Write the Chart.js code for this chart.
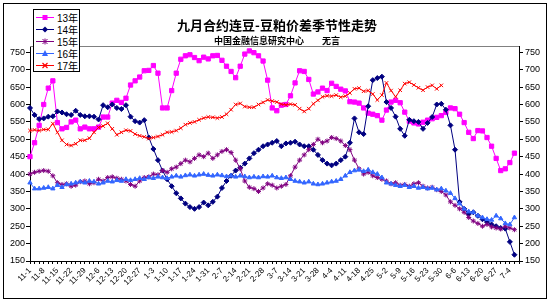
<!DOCTYPE html>
<html>
<head>
<meta charset="utf-8">
<script src="https://cdn.jsdelivr.net/npm/chart.js@4.4.1/dist/chart.umd.min.js"></script>
<style>
  body { margin: 0; background: #fff; }
  #wrap { position: relative; width: 554px; height: 305px; }
  #frame { position: absolute; left: 3px; top: 3px; width: 544px; height: 296px; border: 1px solid #000; box-sizing: border-box; pointer-events: none; }
  #legend { position: absolute; left: 33px; top: 9px; width: 47px; height: 63px; border: 1px solid #000; background: #fff; box-sizing: border-box; padding-top: 1px; font: 10px "Liberation Sans", "Noto Sans CJK SC", sans-serif; color: #000; white-space: nowrap; overflow: hidden; }
  .row { height: 12.2px; display: flex; align-items: center; }
  .row svg { margin: 0 3px 0 2px; flex: none; }
</style>
</head>
<body>
<div id="wrap">
  <canvas id="myChart" width="554" height="305"></canvas>
  <div id="frame"></div>
  <div id="legend"></div>
</div>
<script>
// tick labels on the date axis, one every 3 points
const tickLabels = ['11-1','11-8','11-15','11-22','11-29','12-6','12-13','12-20','12-27','1-3','1-10','1-17',
  '1-24','1-31','2-7','2-14','2-21','2-28','3-7','3-14','3-21','3-28','4-4','4-11',
  '4-18','4-25','5-2','5-9','5-16','5-23','5-30','6-6','6-13','6-20','6-27','7-4'];

const seriesNames = ['13年', '14年', '15年', '16年', '17年'];

const y13 = [450,490,540,600,647,668,548,530,534,550,555,530,535,530,530,535,564,564,604,612,
  606,618,656,668,679,697,698,712,690,590,590,640,690,730,740,743,735,726,736,731,
  740,741,727,710,695,677,710,745,754,749,740,725,670,590,582,598,600,625,662,697,
  695,672,630,636,647,640,661,652,644,639,608,607,604,590,575,572,568,555,584,607,
  612,605,578,552,547,544,549,555,559,563,568,577,590,588,572,548,520,502,525,524,
  505,480,445,410,415,433,460];

const y14 = [590,570,558,560,565,566,580,577,572,570,582,570,566,566,565,557,598,592,600,590,
  587,598,565,552,548,555,505,472,440,410,385,365,345,330,315,305,300,305,318,310,
  320,335,360,380,395,410,418,430,445,460,470,480,485,490,495,480,488,490,493,485,
  480,480,470,455,440,430,425,430,440,450,490,560,520,515,595,670,676,680,607,590,
  565,530,510,556,552,550,530,547,564,600,602,585,540,470,320,300,285,290,280,270,
  262,255,250,245,243,205,168];

const y15 = [400,405,408,410,408,395,375,370,372,365,368,378,380,372,375,385,380,390,392,388,
  385,380,370,365,380,390,392,400,398,410,405,415,420,430,440,435,445,455,450,460,
  445,455,465,470,462,440,415,380,362,358,350,360,372,368,360,365,370,395,420,440,
  455,470,485,500,490,495,505,502,495,482,470,440,415,400,405,395,390,385,380,372,
  375,368,370,365,372,375,365,360,362,355,350,340,320,310,300,290,275,265,258,250,
  255,248,245,242,250,245,240];

const y16 = [375,358,358,360,362,358,368,362,370,372,375,378,375,380,378,372,375,380,378,382,
  380,385,382,385,388,385,390,388,392,390,388,392,395,392,396,398,395,398,400,397,
  395,398,396,393,395,392,395,393,390,392,390,393,392,395,390,388,390,385,380,378,
  375,378,372,370,372,375,378,380,385,395,405,410,412,408,412,405,400,390,375,372,
  368,365,368,362,365,360,362,358,360,355,358,352,345,330,315,300,292,290,280,275,
  270,268,280,272,258,255,275];

const y17 = [525,527,525,528,528,545,520,497,485,482,487,497,497,503,520,534,538,546,530,513,
  520,526,524,515,510,507,502,505,508,513,520,521,525,532,542,547,550,556,561,564,
  563,561,564,572,585,600,603,594,592,592,600,606,613,610,607,601,599,601,599,588,
  580,588,602,612,622,625,624,627,621,624,633,645,647,638,640,630,613,627,662,640,
  622,641,660,664,656,648,641,650,655,645,655];

const colors = ['#ff00ff', '#000080', '#800080', '#3366ff', '#ff0000'];
const markers = ['rect', 'rectRot', 'star', 'triangle', 'crossRot'];

const categories = [];
tickLabels.forEach(t => categories.push(t, '', ''));

const seriesValues = [y13, y14, y15, y16, y17];

const datasets = seriesNames.map((name, i) => ({
  label: name,
  data: seriesValues[i],
  borderColor: colors[i],
  backgroundColor: colors[i],
  borderWidth: 1,
  pointStyle: markers[i],
  pointRadius: i == 0 ? 3 : 2.5,
  pointBorderWidth: 1,
  tension: 0,
  yAxisID: 'y',
  order: 5 - i
}));

// gray top edge of the plot area
const topEdge = {
  id: 'topEdge',
  afterDraw(chart) {
    const a = chart.chartArea, c = chart.ctx;
    c.save();
    c.strokeStyle = '#808080';
    c.lineWidth = 1;
    c.beginPath();
    c.moveTo(a.left, Math.round(a.top) + 0.5);
    c.lineTo(a.right, Math.round(a.top) + 0.5);
    c.stroke();
    c.restore();
  }
};

Chart.defaults.color = '#000';
Chart.defaults.font.family = '"Liberation Sans", Arial, sans-serif';

const yAxis = (pos, w) => ({
  type: 'linear',
  position: pos,
  min: 150,
  max: 767,
  ticks: { stepSize: 50, includeBounds: false, font: { size: 9 }, padding: pos == 'left' ? 1 : 2, color: '#000' },
  grid: { drawOnChartArea: false, tickLength: 4, color: '#000' },
  border: { color: '#000' },
  afterFit: s => { s.width = w; }
});

const ctx = document.getElementById('myChart');
new Chart(ctx, {
  type: 'line',
  data: { labels: categories, datasets: datasets },
  options: {
    responsive: false,
    animation: false,
    devicePixelRatio: 1,
    layout: { padding: 0 },
    plugins: {
      legend: { display: false },
      tooltip: { enabled: false },
      title: {
        display: true,
        text: '九月合约连豆-豆粕价差季节性走势',
        font: { family: '"Noto Sans CJK SC", sans-serif', size: 13, weight: 'bold' },
        color: '#000',
        padding: { top: 17, bottom: 2 }
      },
      subtitle: {
        display: true,
        text: '中国金融信息研究中心　　无言',
        font: { family: '"Noto Sans CJK SC", sans-serif', size: 9, weight: 'bold' },
        color: '#000',
        padding: { top: 1, bottom: 0 }
      }
    },
    scales: {
      x: {
        type: 'category',
        offset: false,
        grid: { drawOnChartArea: false, tickLength: 3, color: '#000' },
        border: { color: '#000' },
        ticks: { autoSkip: false, maxRotation: 45, minRotation: 45, font: { size: 8 }, padding: 2, color: '#000' },
        afterFit: s => { s.height = 44; }
      },
      y: yAxis('left', 30),
      y2: yAxis('right', 35)
    }
  },
  plugins: [topEdge]
});

// legend box drawn as html over the top-left corner
function markerSvg(i) {
  const c = colors[i];
  let m = '';
  if (markers[i] == 'rect') m = `<rect x="6.5" y="2" width="5" height="5" fill="${c}"/>`;
  if (markers[i] == 'rectRot') m = `<polygon points="9,1.5 12,4.5 9,7.5 6,4.5" fill="${c}"/>`;
  if (markers[i] == 'star') m = `<path d="M6.5,2 L11.5,7 M11.5,2 L6.5,7 M9,1.5 L9,7.5" stroke="${c}" stroke-width="1"/>`;
  if (markers[i] == 'triangle') m = `<polygon points="9,1 12,7 6,7" fill="${c}"/>`;
  if (markers[i] == 'crossRot') m = `<path d="M6.5,2 L11.5,7 M11.5,2 L6.5,7" stroke="${c}" stroke-width="1.2"/>`;
  return `<svg width="18" height="9"><line x1="0" y1="4.5" x2="18" y2="4.5" stroke="${c}" stroke-width="1"/>${m}</svg>`;
}
const legendDiv = document.getElementById('legend');
seriesNames.forEach((name, i) => {
  const row = document.createElement('div');
  row.className = 'row';
  row.innerHTML = markerSvg(i) + '<span>' + name + '</span>';
  legendDiv.appendChild(row);
});
</script>
</body>
</html>
